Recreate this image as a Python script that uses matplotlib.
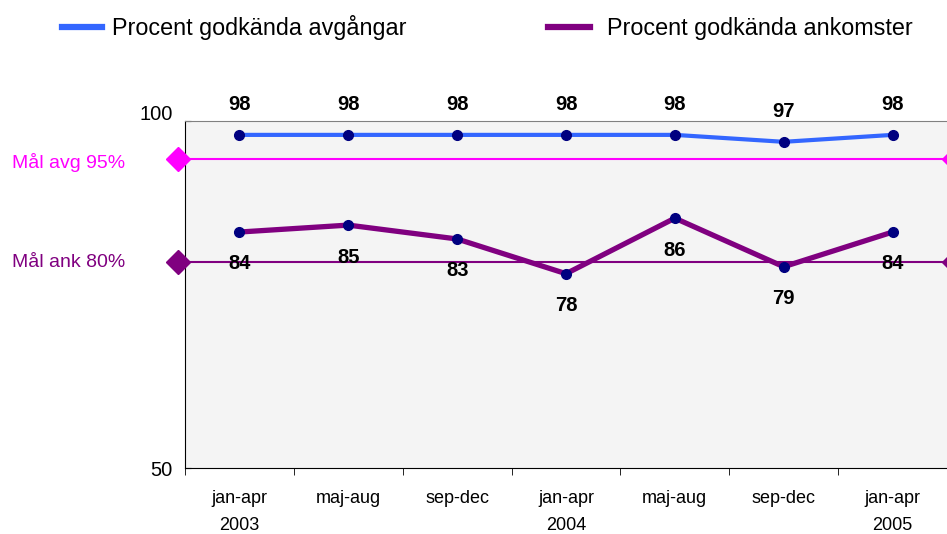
import matplotlib
matplotlib.use('Agg')
import matplotlib.pyplot as plt
import matplotlib.transforms as mtransforms

# data
periods = ['jan-apr\n2003', 'maj-aug', 'sep-dec', 'jan-apr\n2004', 'maj-aug', 'sep-dec', 'jan-apr\n2005']
avgangar = [98, 98, 98, 98, 98, 97, 98]
ankomster = [84, 85, 83, 78, 86, 79, 84]
mal_avg = 94.5
mal_ank = 79.75

plt.rcParams['font.family'] = ['Liberation Sans', 'DejaVu Sans']

fig = plt.figure(figsize=(9.47, 5.34), dpi=100)
ax = fig.add_axes([185/947, 1-468/534, 1-185/947, (468-121)/534])
ax.set_facecolor('#f4f4f4')

x = list(range(len(periods)))

# target lines with diamonds at both ends
ax.plot([-0.565, 6.565], [mal_avg, mal_avg], color='#ff00ff', lw=1.5,
        marker='D', markersize=12, clip_on=False, zorder=3)
ax.plot([-0.565, 6.565], [mal_ank, mal_ank], color='#800080', lw=1.5,
        marker='D', markersize=12, clip_on=False, zorder=3)

ax.plot(x, avgangar, color='#3366ff', lw=3, zorder=4)
ax.plot(x, ankomster, color='#800080', lw=3.8, zorder=4)
ax.plot(x, avgangar, 'o', color='#000080', markersize=7, zorder=5)
ax.plot(x, ankomster, 'o', color='#000080', markersize=7, zorder=5)

for xi, v in zip(x, avgangar):
    ax.annotate(str(v), (xi, v), xytext=(0, 22), textcoords='offset points',
                ha='center', va='center', fontsize=14.5, fontweight='bold')
for xi, v in zip(x, ankomster):
    ax.annotate(str(v), (xi, v), xytext=(0, -23), textcoords='offset points',
                ha='center', va='center', fontsize=14.5, fontweight='bold')

ax.set_xlim(-0.5, 6.5)
ax.set_ylim(50, 100)
ax.set_yticks([50, 100])
ax.set_yticklabels(['50', '100'], fontsize=14.5)
ax.set_xticks(x)
ax.set_xticklabels(periods, fontsize=13, linespacing=1.75)
ax.set_xticks([i - 0.5 for i in range(len(periods) + 1)], minor=True)
ax.tick_params(axis='x', which='major', length=0, pad=16)
ax.tick_params(axis='x', which='minor', length=5, direction='out')
ax.tick_params(axis='y', length=4, direction='in', pad=9)
ax.spines['right'].set_visible(False)
ax.spines['top'].set_color('#808080')

# the "100" label sits a little above its tick
lbl100 = ax.get_yticklabels()[1]
lbl100.set_transform(lbl100.get_transform() + mtransforms.ScaledTranslation(0, 8/100, fig.dpi_scale_trans))

# target labels at the left side
trans = mtransforms.blended_transform_factory(fig.transFigure, ax.transData)
ax.text(125/947, mal_avg - 0.5, 'Mål avg 95%', transform=trans, ha='right', va='center',
        color='#ff00ff', fontsize=14)
ax.text(125/947, mal_ank - 0.1, 'Mål ank 80%', transform=trans, ha='right', va='center',
        color='#800080', fontsize=14)

# legend
fig.text(112/947, 1-28/534, 'Procent godkända avgångar', ha='left', va='center', fontsize=16.8)
fig.text(607/947, 1-28/534, 'Procent godkända ankomster', ha='left', va='center', fontsize=16.8)
fig.add_artist(plt.Line2D([62/947, 102/947], [1-27/534, 1-27/534], color='#3366ff', lw=4.5))
fig.add_artist(plt.Line2D([548/947, 590/947], [1-27/534, 1-27/534], color='#800080', lw=4.5))

fig.savefig('out.png', dpi=100)
